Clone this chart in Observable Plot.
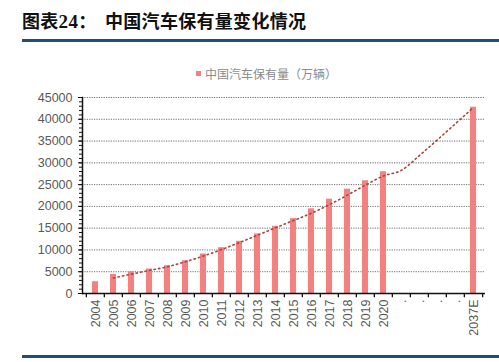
<!DOCTYPE html>
<html>
<head>
<meta charset="utf-8">
<script src="https://cdn.jsdelivr.net/npm/d3@7"></script>
<script src="https://cdn.jsdelivr.net/npm/@observablehq/plot@0.6"></script>
<style>
  html, body { margin: 0; padding: 0; background: #fff; }
  body { width: 499px; height: 362px; position: relative; overflow: hidden; font-family: "Noto Sans CJK SC", sans-serif; }
  .title { position: absolute; top: 7px; font-size: 18px; font-weight: bold; color: #111; white-space: nowrap; letter-spacing: 0.3px; }
  #t1 { left: 22px; }
  #t2 { left: 105px; }
  .title .num { font-family: "Liberation Serif", serif; font-size: 19px; }
  #topline { position: absolute; left: 22px; right: 0; top: 39px; height: 3px; background: #1f4e79; }
  #botline { position: absolute; left: 22px; right: 0; top: 355px; height: 3px; background: #1f4e79; }
  #legend { position: absolute; left: 196px; top: 65px; font-size: 12px; color: #8a8a8a; white-space: nowrap; display: flex; align-items: center; }
  #legend .sw { width: 5px; height: 5px; background: #f4817f; margin-right: 4px; }
  #chart { position: absolute; left: 0; top: 85px; }
</style>
</head>
<body>
<div class="title" id="t1">图表<span class="num">24</span>：</div>
<div class="title" id="t2">中国汽车保有量变化情况</div>
<div id="topline"></div>
<div id="legend"><span class="sw"></span>中国汽车保有量（万辆）</div>
<div id="chart"></div>
<div id="botline"></div>
<script>
const categories = ["2004","2005","2006","2007","2008","2009","2010","2011","2012","2013","2014","2015","2016","2017","2018","2019","2020","b1","b2","b3","b4","2037E"];
const tickLabels = ["2004","2005","2006","2007","2008","2009","2010","2011","2012","2013","2014","2015","2016","2017","2018","2019","2020",".",".",".",".","2037E"];
const holdings = [2700, 4370, 5000, 5620, 6380, 7530, 9070, 10520, 11980, 13680, 15430, 17200, 19440, 21650, 23950, 25880, 27960, null, null, null, null, 42770];
const trend = [null, 3550, 4450, 5300, 6150, 7300, 8600, 10100, 11700, 13400, 15100, 16750, 18450, 20400, 22600, 24900, 27000, 28300, 31700, 35300, 39000, 42700];
const yTicks = [0, 5000, 10000, 15000, 20000, 25000, 30000, 35000, 40000, 45000];
const yMinor = d3.range(0, 45001, 1000);

const W = 499, H = 255, ML = 82, MR = 14, MT = 12, MB = 47;
const step = (W - ML - MR) / categories.length;
const rows = categories.map((c, i) => ({cat: c, label: tickLabels[i], v: holdings[i], t: trend[i]}));
const labelOf = new Map(rows.map(r => [r.cat, r.label]));

const chart = Plot.plot({
  width: W, height: H,
  marginLeft: ML, marginRight: MR, marginTop: MT, marginBottom: MB,
  style: {fontFamily: "'Liberation Sans', Arial, sans-serif", fontSize: "12.5px", color: "#595959", background: "transparent"},
  x: {type: "band", domain: categories, padding: 0},
  y: {domain: [0, 45000]},
  marks: [
    Plot.ruleY(yTicks.filter(d => d > 0), {stroke: "#6e6e6e", strokeWidth: 1, strokeDasharray: "1.2,1.2"}),
    Plot.barY(rows.filter(r => r.v != null), {x: "cat", y: "v", fill: "#f4817f", insetLeft: 6, insetRight: 6}),
    Plot.lineY(rows.filter(r => r.t != null), {x: "cat", y: "t", stroke: "#a9443c", strokeWidth: 1.6, strokeDasharray: "1.4,3.2", curve: "monotone-x"}),
    Plot.ruleY([0], {stroke: "#111", strokeWidth: 1.5}),
    Plot.ruleX(categories, {x: d => d, dx: -step / 2, y1: 0, y2: -950, stroke: "#111", strokeWidth: 1.3}),
    Plot.ruleX(categories.slice(-1), {x: d => d, dx: step / 2, y1: 0, y2: -950, stroke: "#111", strokeWidth: 1.3}),
    Plot.frame({anchor: "left", stroke: "#111", strokeWidth: 1.5}),
    Plot.axisY({ticks: yMinor, tickSize: 3, text: null, stroke: "#111"}),
    Plot.axisY({ticks: yTicks, tickSize: 4, tickPadding: 6, tickFormat: d => String(d), label: null, stroke: "#111", fill: "#595959"}),
    Plot.axisX({tickSize: 0, tickPadding: 6, tickRotate: -90, tickFormat: d => labelOf.get(d), label: null, fill: "#595959"})
  ]
});
document.getElementById("chart").appendChild(chart);
</script>
</body>
</html>
